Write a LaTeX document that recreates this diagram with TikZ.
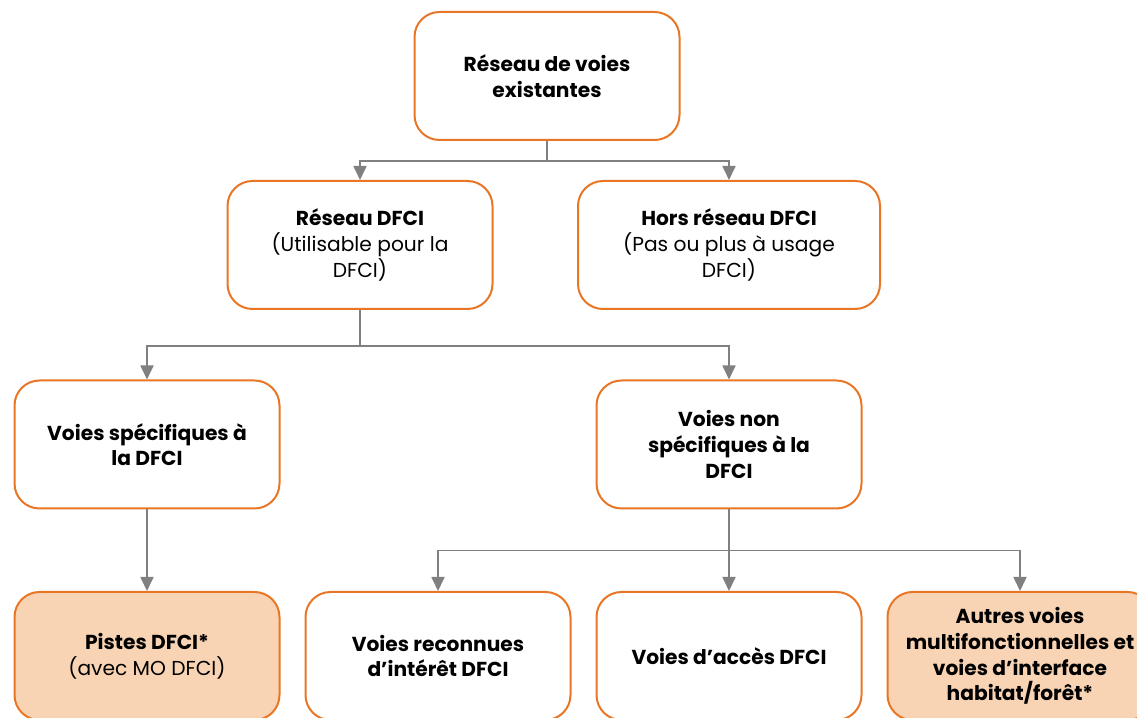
\documentclass[tikz,border=0pt]{standalone}
\usepackage{fontspec}
\setmainfont{Poppins}
\usepackage{tikz}
\usetikzlibrary{arrows.meta}
\definecolor{boxorange}{HTML}{E97625}
\definecolor{boxfill}{HTML}{F9D4B4}
\definecolor{linkgray}{HTML}{808080}

\begin{document}
\begin{tikzpicture}[line width=0.3mm,
    voie/.style={draw=boxorange, line width=0.4mm, rounded corners=0.5cm, fill=white,
      minimum width=5.3cm, minimum height=2.56cm, align=center,
      font=\fontsize{11.5}{14.6}\selectfont},
    piste/.style={voie, fill=boxfill},
    lien/.style={draw=linkgray, line width=0.35mm, -{Triangle[width=2.6mm,length=2.8mm]}}]
        \clip (0, 0) rectangle (22.74, -14.36);

        \node[voie](Res) at (10.94, -1.52) {\textbf{Réseau de voies}\\\textbf{existantes}};
        \node[voie](Dfci) at (7.2, -4.9) {\textbf{Réseau DFCI}\\(Utilisable pour la\\DFCI)};
        \node[voie, minimum width=6.04cm](Hors) at (14.58, -4.9) {\textbf{Hors réseau DFCI}\\(Pas ou plus à usage\\DFCI)};

        \node[voie](Spec) at (2.94, -8.89) {\textbf{Voies spécifiques à}\\\textbf{la DFCI}};
        \node[voie](NonSpec) at (14.58, -8.89) {\textbf{Voies non}\\\textbf{spécifiques à la}\\\textbf{DFCI}};

        \node[piste](Pistes) at (2.94, -13.12) {\textbf{Pistes DFCI*}\\(avec MO DFCI)};
        \node[voie](Reconnues) at (8.76, -13.12) {\textbf{Voies reconnues}\\\textbf{d’intérêt DFCI}};
        \node[voie](Acces) at (14.58, -13.12) {\textbf{Voies d’accès DFCI}};
        \node[piste](Autres) at (20.4, -13.12) {\textbf{Autres voies}\\\textbf{multifonctionnelles et}\\\textbf{voies d’interface}\\\textbf{habitat/forêt*}};

        \draw[lien] (Res.south) -- ++(0, -0.4) -| (Dfci.north);
        \draw[lien] (Res.south) -- ++(0, -0.4) -| (Hors.north);
        \draw[lien] (Dfci.south) -- ++(0, -0.72) -| (Spec.north);
        \draw[lien] (Dfci.south) -- ++(0, -0.72) -| (NonSpec.north);
        \draw[lien] (Spec) -- (Pistes);
        \draw[lien] (NonSpec.south) -- ++(0, -0.82) -| (Reconnues.north);
        \draw[lien] (NonSpec) -- (Acces);
        \draw[lien] (NonSpec.south) -- ++(0, -0.82) -| (Autres.north);
      \end{tikzpicture}
\end{document}
